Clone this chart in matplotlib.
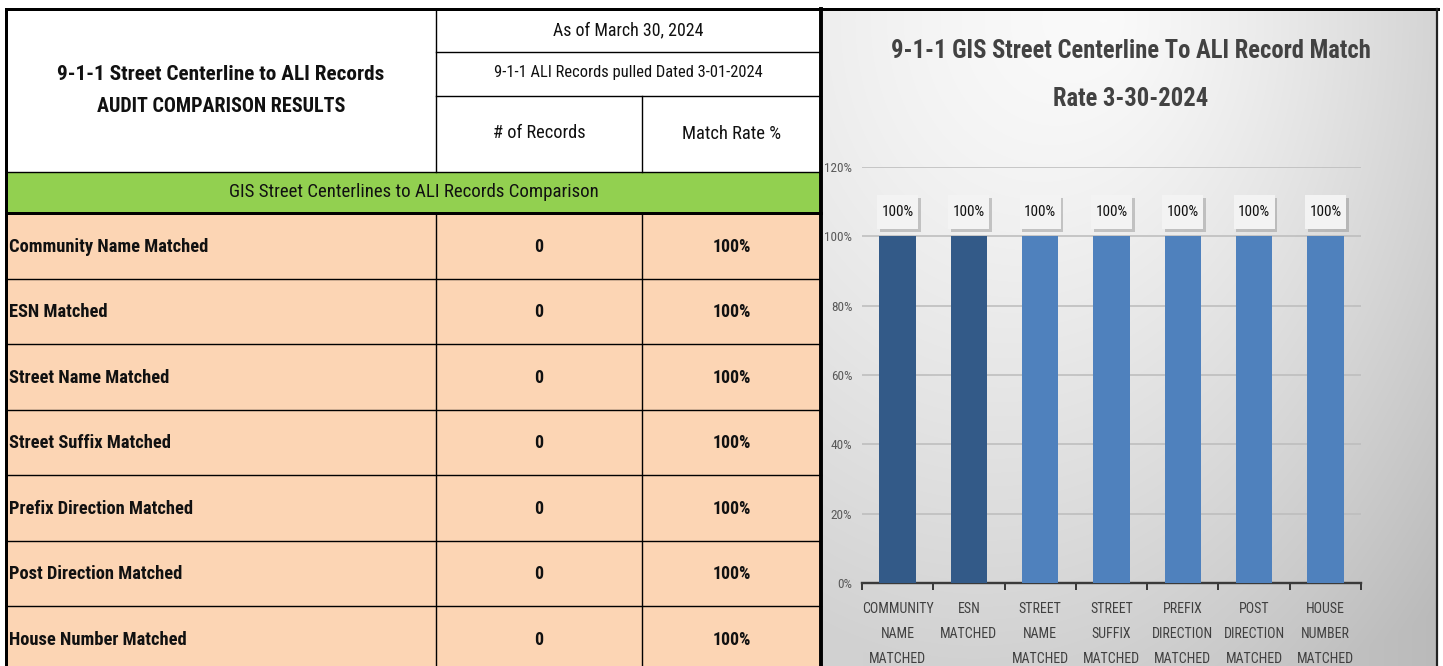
import numpy as np
import matplotlib
matplotlib.use("Agg")
import matplotlib.pyplot as plt
from matplotlib.patches import Rectangle
import matplotlib.patheffects as pe

# ---------------- data ----------------
table_title = ["9-1-1 Street Centerline to ALI Records", "AUDIT COMPARISON RESULTS"]
header_date = "As of March 30, 2024"
header_pulled = "9-1-1 ALI Records pulled Dated 3-01-2024"
col_headers = ["# of Records", "Match Rate %"]
section_title = "GIS Street Centerlines to ALI Records Comparison"
row_labels = ["Community Name Matched", "ESN Matched", "Street Name Matched",
              "Street Suffix Matched", "Prefix Direction Matched",
              "Post Direction Matched", "House Number Matched"]
records = [0, 0, 0, 0, 0, 0, 0]
match_rate = [100, 100, 100, 100, 100, 100, 100]

chart_title = "9-1-1 GIS Street Centerline To ALI Record Match\nRate 3-30-2024"
categories = ["COMMUNITY\nNAME\nMATCHED", "ESN\nMATCHED", "STREET\nNAME\nMATCHED",
              "STREET\nSUFFIX\nMATCHED", "PREFIX\nDIRECTION\nMATCHED",
              "POST\nDIRECTION\nMATCHED", "HOUSE\nNUMBER\nMATCHED"]
chart_values = [100, 100, 100, 100, 100, 100, 100]
y_ticks = [0, 20, 40, 60, 80, 100, 120]

FONT = ['Roboto Condensed', 'Liberation Sans', 'DejaVu Sans']
plt.rcParams['font.family'] = FONT

W, H = 1443, 666
fig = plt.figure(figsize=(W / 100, H / 100), dpi=100)
fig.patch.set_facecolor('white')

bg = fig.add_axes([0, 0, 1, 1])
bg.set_xlim(0, W)
bg.set_ylim(H, 0)
bg.axis('off')

px = 0.72  # 1 pixel in points

# ---------------- chart panel background (gradient) ----------------
PX0, PX1, PY0, PY1 = 822, 1437, 9, 666
gy, gx = np.mgrid[PY0:PY1, PX0:PX1].astype(float)
r = np.sqrt((gx - 1110) ** 2 + ((gy - 20) / 1.05) ** 2)
v = 1.0 - 0.18 * np.clip(r / 650.0, 0, 1) ** 1.2 - 0.09 * ((gx - PX0) / (PX1 - PX0)) ** 2
img = np.dstack([v, v, v])
bg.imshow(img, extent=(PX0, PX1, PY1, PY0), aspect='auto', zorder=0, interpolation='bilinear')

# ---------------- table ----------------
TX0, C1, C2, TX1 = 6, 436, 642, 821
TY0 = 9
green_bottom = 213
row_h = 65.5
peach = '#FCD5B4'
green = '#92D050'

bg.add_patch(Rectangle((TX0, TY0), TX1 - TX0, 172 - TY0, facecolor='white', edgecolor='none', zorder=1))
bg.add_patch(Rectangle((TX0, 172), TX1 - TX0, green_bottom - 172, facecolor=green, edgecolor='none', zorder=1))
bg.add_patch(Rectangle((TX0, green_bottom), TX1 - TX0, H - green_bottom, facecolor=peach, edgecolor='none', zorder=1))

thin = 1.4 * px
thick = 3 * px
bg.plot([C1, TX1], [52, 52], color='black', lw=thin, zorder=3)
bg.plot([C1, TX1], [96, 96], color='black', lw=thin, zorder=3)
bg.plot([C1, C1], [TY0, 172], color='black', lw=thin, zorder=3)
bg.plot([C2, C2], [96, 172], color='black', lw=thin, zorder=3)
bg.plot([TX0, TX1], [172, 172], color='black', lw=thin, zorder=3)
bg.plot([TX0, TX1], [green_bottom, green_bottom], color='black', lw=thick, zorder=3)

tcol = '#111111'
bg.text((TX0 + C1) / 2, 75, table_title[0], ha='center', va='center', fontsize=15.3,
        fontweight='bold', color=tcol, zorder=4)
bg.text((TX0 + C1) / 2, 107, table_title[1], ha='center', va='center', fontsize=14.5,
        fontweight='bold', color=tcol, zorder=4)
bg.text((C1 + TX1) / 2, 30, header_date, ha='center', va='center', fontsize=12.9, color=tcol, zorder=4)
bg.text((C1 + TX1) / 2, 73, header_pulled, ha='center', va='center', fontsize=11.9, color=tcol, zorder=4)
bg.text((C1 + C2) / 2, 133, col_headers[0], ha='center', va='center', fontsize=13.2, color=tcol, zorder=4)
bg.text((C2 + TX1) / 2, 134, col_headers[1], ha='center', va='center', fontsize=13.4, color=tcol, zorder=4)
bg.text((TX0 + TX1) / 2, 192, section_title, ha='center', va='center', fontsize=13.6, color=tcol, zorder=4)

for i, (lab, rec, rate) in enumerate(zip(row_labels, records, match_rate)):
    y0 = green_bottom + i * row_h
    yc = y0 + row_h / 2 + 1
    if i > 0:
        bg.plot([TX0, TX1], [y0, y0], color='black', lw=thin, zorder=3)
    bg.text(TX0 + 3, yc, lab, ha='left', va='center', fontsize=13.3, fontweight='bold', color=tcol, zorder=4)
    bg.text((C1 + C2) / 2, yc, str(rec), ha='center', va='center', fontsize=12.8, fontweight='bold', color=tcol, zorder=4)
    bg.text((C2 + TX1) / 2, yc, f"{rate}%", ha='center', va='center', fontsize=12.8, fontweight='bold', color=tcol, zorder=4)

bg.plot([C1, C1], [green_bottom, H], color='black', lw=thin, zorder=3)
bg.plot([C2, C2], [green_bottom, H], color='black', lw=thin, zorder=3)

bg.plot([TX0, TX0], [TY0, H], color='black', lw=thick, zorder=5)
bg.plot([TX1, TX1], [TY0, H], color='black', lw=thick * 1.3, zorder=5)
bg.plot([TX0, 1438], [TY0, TY0], color='black', lw=thick, zorder=5)
bg.plot([1437, 1437], [TY0, H], color='#222222', lw=2.2 * px, zorder=5)

# ---------------- bar chart ----------------
AX0, AX1, AY0, AY1 = 862, 1361, 583, 167
ax = fig.add_axes([AX0 / W, (H - AY0) / H, (AX1 - AX0) / W, (AY0 - AY1) / H])
ax.set_facecolor('none')
n = len(categories)
x = np.arange(n)
bar_colors = ['#335A88', '#335A88'] + ['#4F81BD'] * (n - 2)
ax.bar(x, chart_values, width=0.51, color=bar_colors, zorder=3)
ax.set_xlim(-0.5, n - 0.5)
ax.set_ylim(0, 120)
ax.set_yticks(y_ticks)
ax.set_yticklabels([f"{t}%" for t in y_ticks], fontsize=9.5, color='#595959')
ax.tick_params(axis='y', length=0, pad=7)
ax.yaxis.grid(True, color='#bdbdbd', lw=1.6 * px, zorder=0)
ax.set_axisbelow(True)
for s in ['left', 'right', 'top']:
    ax.spines[s].set_visible(False)
ax.spines['bottom'].set_color('#3a3a3a')
ax.spines['bottom'].set_linewidth(2.4 * px)
ax.set_xticks(x)
ax.set_xticklabels(categories, fontsize=10, color='#404040', linespacing=2.0, va='top')
ax.tick_params(axis='x', which='major', length=0, pad=13.5)
ax.set_xticks(np.arange(-0.5, n), minor=True)
ax.tick_params(axis='x', which='minor', length=5, width=2 * px, color='#3a3a3a', direction='out')

# data label boxes (sizes in pixels converted to data units)
xpp = (AX1 - AX0) / n          # pixels per category
ypp = (AY0 - AY1) / 120.0      # pixels per percent
box_w = 41 / xpp
box_h = 34 / ypp
box_gap = 7 / ypp
for xi, val in zip(x, chart_values):
    rect = Rectangle((xi - box_w / 2, val + box_gap), box_w, box_h, facecolor='#f3f3f3',
                     edgecolor='none', zorder=5, clip_on=False)
    rect.set_path_effects([pe.SimplePatchShadow(offset=(2, -2), shadow_rgbFace='#8c8c8c', alpha=0.45), pe.Normal()])
    ax.add_patch(rect)
    ax.text(xi, val + box_gap + box_h / 2, f"{val}%", ha='center', va='center', fontsize=11,
            color='#111111', zorder=6)

title_lines = chart_title.split("\n")
bg.text(1131, 51, title_lines[0], ha='center', va='center', fontsize=17.7,
        fontweight='bold', color='#424242', zorder=6)
bg.text(1131, 99, title_lines[1], ha='center', va='center', fontsize=17.7,
        fontweight='bold', color='#424242', zorder=6)

fig.savefig('out.png', dpi=100)
